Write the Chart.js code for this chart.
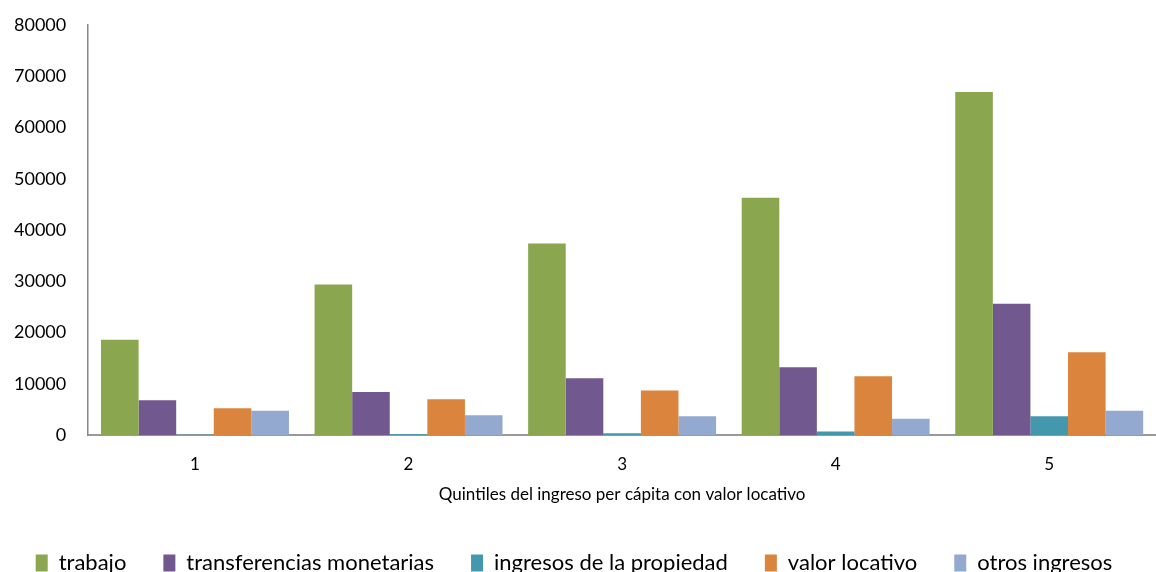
<!DOCTYPE html>
<html>
<head>
<meta charset="utf-8">
<script src="https://cdn.jsdelivr.net/npm/chart.js@4.4.0/dist/chart.umd.min.js"></script>
<style>
  html, body { margin: 0; padding: 0; background: #fff; overflow: hidden; }
  #wrap { width: 1156px; height: 592px; margin-top: -8px; position: relative; }
</style>
</head>
<body>
<div id="wrap"><canvas id="quintilesChart"></canvas></div>
<script>
// ========== Data ==========
const quintiles = ["1", "2", "3", "4", "5"];
const trabajo = [18600, 29400, 37350, 46300, 66900];
const transferencias = [6800, 8400, 11100, 13250, 25600];
const propiedad = [80, 200, 400, 700, 3700];
const valorLocativo = [5250, 7000, 8700, 11500, 16150];
const otrosIngresos = [4750, 3900, 3700, 3200, 4750];
const yTicks = [0, 10000, 20000, 30000, 40000, 50000, 60000, 70000, 80000];

const seriesNames = ["trabajo", "transferencias monetarias", "ingresos de la propiedad", "valor locativo", "otros ingresos"];
const seriesColors = ["#8AA64F", "#71588F", "#4398AE", "#DB843D", "#93A9CF"];
const seriesValues = [trabajo, transferencias, propiedad, valorLocativo, otrosIngresos];

const FONT = "Lato, 'Open Sans', sans-serif";

const datasets = seriesNames.map((name, i) => ({
  label: name,
  data: seriesValues[i],
  backgroundColor: seriesColors[i],
  borderWidth: 0,
  categoryPercentage: 0.88,
  barPercentage: 1.0
}));

new Chart(document.getElementById("quintilesChart").getContext("2d"), {
  type: "bar",
  data: { labels: quintiles, datasets },
  options: {
    responsive: true,
    maintainAspectRatio: false,
    animation: false,
    layout: { padding: { top: 0, right: 0, left: -8, bottom: 0 } },
    plugins: {
      tooltip: { enabled: false },
      legend: {
        position: "bottom",
        labels: {
          boxWidth: 12,
          boxHeight: 17,
          padding: 37,
          color: "#000",
          font: { family: FONT, size: 22 }
        }
      }
    },
    scales: {
      x: {
        grid: { display: false, drawTicks: false },
        border: { display: true, color: "#999", width: 2 },
        ticks: { color: "#000", padding: 19, font: { family: FONT, size: 17 } },
        title: {
          display: true,
          text: "Quintiles del ingreso per cápita con valor locativo",
          color: "#000",
          padding: { top: -9, bottom: 10 },
          font: { family: FONT, size: 17 }
        }
      },
      y: {
        min: 0,
        max: 80000,
        afterBuildTicks: axis => { axis.ticks = yTicks.map(v => ({ value: v })); },
        grid: { display: false, drawTicks: false },
        border: { display: true, color: "#888", width: 1.5 },
        ticks: {
          color: "#000",
          padding: 22,
          font: { family: FONT, size: 18 },
          callback: v => String(v)
        }
      }
    }
  }
});
</script>
</body>
</html>
